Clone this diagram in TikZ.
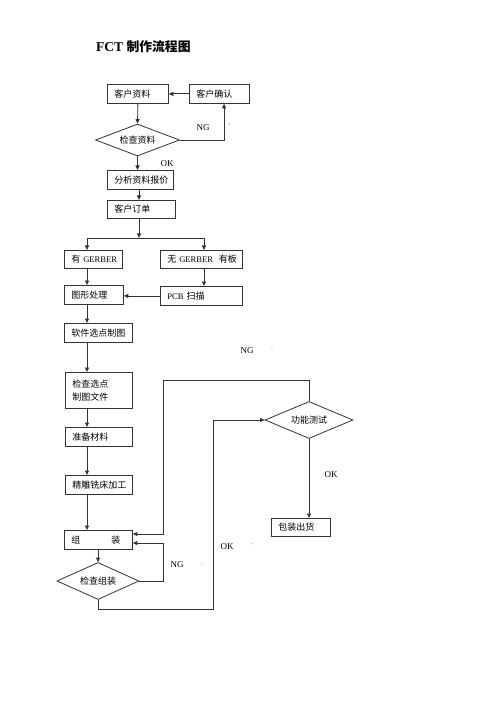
\documentclass[tikz,border=0pt]{standalone}
\usepackage{fontspec}
\setmainfont{Liberation Serif}
\newfontfamily\cjk{Noto Sans CJK SC}
\newcommand\zhtxt[1]{{\fontsize{9}{13}\selectfont\cjk #1}}
\usetikzlibrary{shapes.geometric,arrows.meta}
\begin{document}
\begin{tikzpicture}[x=1pt,y=-1pt,
  box/.style={draw=black!80, line width=0.8pt, anchor=north west, inner xsep=7pt, inner ysep=0pt, align=left, font=\fontsize{8.6}{13}\selectfont},
  dia/.style={draw=black!80, line width=0.8pt, diamond, aspect=2.6, inner sep=0pt, font=\fontsize{9}{11}\selectfont},
  arr/.style={-{Triangle[length=4.5pt,width=4pt]}, line width=0.8pt, draw=black!80},
  ln/.style={line width=0.8pt, draw=black!80},
  lab/.style={font=\fontsize{9}{11}\selectfont, inner sep=0pt},
  tick/.style={font=\fontsize{6}{7}\selectfont, inner sep=0pt, text=black!60}]
\useasboundingbox (0,0) rectangle (500,708);
\node[font=\fontsize{13.5}{16}\selectfont\bfseries, anchor=west, inner sep=0pt] (title) at (96,47) {FCT {\fontsize{12.8}{16}\selectfont\cjk 制作流程图}};
% boxes
\node[box, text width=47pt, minimum height=19pt] (zl) at (107,84) {\zhtxt{客户资料}};
\node[box, text width=46pt, minimum height=19pt] (qr) at (189,84) {\zhtxt{客户确认}};
\node[dia, minimum width=84pt, minimum height=32pt] (d1) at (137.5,140) {\zhtxt{检查资料}};
\node[box, text width=52pt, minimum height=19pt] (fx) at (107,170) {\zhtxt{分析资料报价}};
\node[box, text width=54pt, minimum height=18pt] (dd) at (107,200) {\zhtxt{客户订单}};
\node[box, text width=44pt, minimum height=18pt] (yg) at (64,250) {\mbox{\zhtxt{有} GERBER}};
\node[box, text width=68pt, minimum height=18pt] (wg) at (160,250) {\mbox{\zhtxt{无} GERBER \ \zhtxt{有板}}};
\node[box, text width=45pt, minimum height=19pt] (tx) at (64,285) {\zhtxt{图形处理}};
\node[box, text width=68pt, minimum height=19pt] (pcb) at (160,286) {\mbox{PCB \zhtxt{扫描}}};
\node[box, text width=54pt, minimum height=19pt] (rj) at (64,323) {\zhtxt{软件选点制图}};
\node[box, text width=53pt, minimum height=36pt] (jc) at (65,372) {\zhtxt{检查选点}\\\zhtxt{制图文件}};
\node[box, text width=53pt, minimum height=19pt] (zb) at (65,427) {\zhtxt{准备材料}};
\node[box, text width=53pt, minimum height=19pt] (jd) at (65,475) {\zhtxt{精雕铣床加工}};
\node[box, text width=54pt, minimum height=19pt] (zz) at (64,530) {\mbox{\zhtxt{组}\hspace{31pt}\zhtxt{装}}};
\node[dia, minimum width=82pt, minimum height=37pt] (d2) at (98,581) {\zhtxt{检查组装}};
\node[dia, minimum width=88pt, minimum height=37pt] (d3) at (309,420) {\zhtxt{功能测试}};
\node[box, text width=45pt, minimum height=18pt] (bz) at (271,518) {\zhtxt{包装出货}};
% coordinates
\coordinate (ngr) at (224,140);
\coordinate (j) at (139,238);
\coordinate (jl) at (87,238);
\coordinate (jr) at (204,238);
\coordinate (lp) at (163,581);
\coordinate (lpt) at (163,543);
\coordinate (up1) at (309,380);
\coordinate (up2) at (163,380);
\coordinate (up3) at (163,534);
\coordinate (bt1) at (98,609);
\coordinate (bt2) at (213,609);
\coordinate (bt3) at (213,420);
% connectors
\draw[arr] (qr.west) -- (zl.east);
\draw[arr] (zl.south) -- (d1.north);
\draw[arr] (d1.east) -- (ngr) -- (ngr |- qr.south);
\draw[arr] (d1.south) -- (d1.south |- fx.north);
\draw[arr] (fx.south -| j) -- (dd.north -| j);
\draw[arr] (dd.south -| j) -- (j);
\draw[ln] (jl) -- (jr);
\draw[arr] (jl) -- (jl |- yg.north);
\draw[arr] (jr) -- (jr |- wg.north);
\draw[arr] (yg.south -| jl) -- (tx.north -| jl);
\draw[arr] (wg.south -| jr) -- (pcb.north -| jr);
\draw[arr] (pcb.west) -- (pcb.west -| tx.east);
\draw[arr] (tx.south -| jl) -- (rj.north -| jl);
\draw[arr] (rj.south -| jl) -- (jc.north -| jl);
\draw[arr] (jc.south -| jl) -- (zb.north -| jl);
\draw[arr] (zb.south -| jl) -- (jd.north -| jl);
\draw[arr] (jd.south -| jl) -- (zz.north -| jl);
\draw[arr] (zz.south -| d2.north) -- (d2.north);
\draw[arr] (d2.east) -- (lp) -- (lpt) -- (lpt -| zz.east);
\draw[arr] (d3.north) -- (up1) -- (up2) -- (up3) -- (up3 -| zz.east);
\draw[arr] (d2.south) -- (bt1) -- (bt2) -- (bt3) -- (d3.west);
\draw[arr] (d3.south) -- (d3.south |- bz.north);
% labels
\node[lab] (ng1) at (203,128) {NG};
\node[tick] (t1) at (229,126) {-};
\node[lab] (ok1) at (167,164) {OK};
\node[lab] (ng2) at (247,351) {NG};
\node[tick] (t2) at (272,348) {`};
\node[lab] (ok2) at (331,475) {OK};
\node[lab] (ok3) at (227,547) {OK};
\node[tick] (t3) at (252,545) {'};
\node[lab] (ng3) at (177,565) {NG};
\node[tick] (t4) at (202,565) {'};
\end{tikzpicture}
\end{document}
